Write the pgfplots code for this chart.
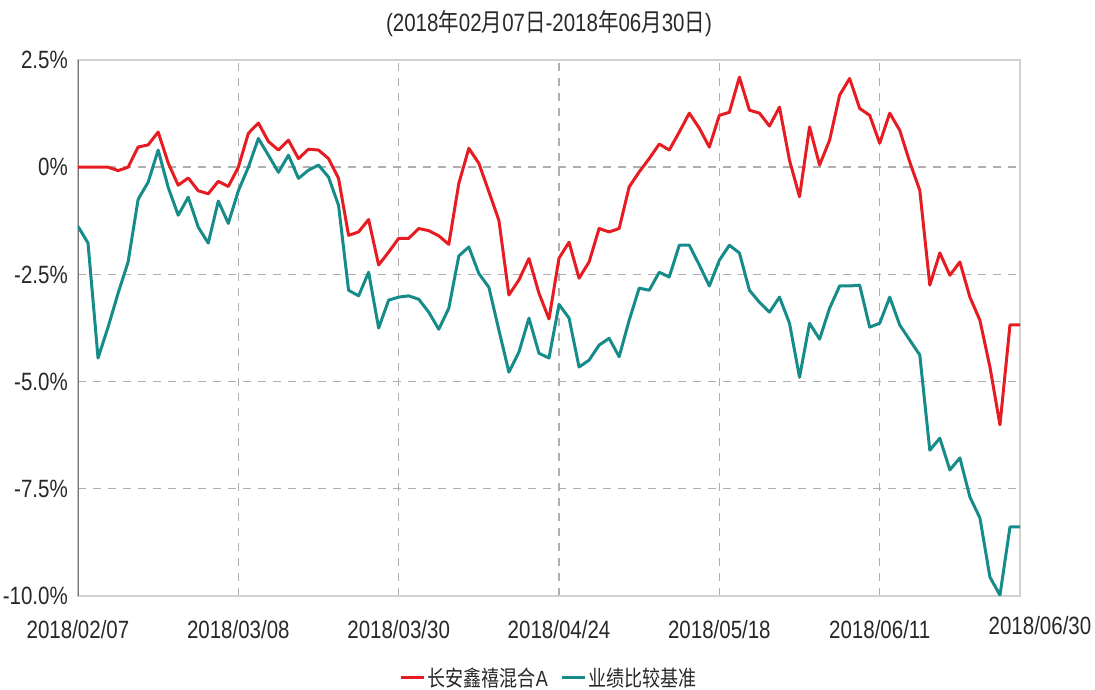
\documentclass[border=0pt]{standalone}
\usepackage{fontspec}
\setmainfont{Liberation Sans}[FakeStretch=0.82]
\newfontfamily\cjk{Noto Sans CJK SC}[FakeStretch=0.82]
\usepackage{pgfplots}
\usepackage{pgfplotstable}
\pgfplotsset{compat=1.18}
\definecolor{fundred}{RGB}{230,28,34}
\definecolor{benchteal}{RGB}{22,140,138}
\definecolor{gridgray}{RGB}{175,175,175}
\definecolor{txtgray}{RGB}{40,40,40}
\newcommand\tickfont{\fontsize{25}{30}\selectfont}
\newcommand\legfont{\fontsize{22}{26}\selectfont}

\pgfplotstableread{
i fund bench
0 0.0 -1.38
1 0.0 -1.77
2 0.0 -4.45
3 0.0 -3.73
4 -0.08 -2.94
5 0.0 -2.21
6 0.47 -0.75
7 0.52 -0.35
8 0.82 0.40
9 0.10 -0.47
10 -0.42 -1.12
11 -0.25 -0.70
12 -0.55 -1.40
13 -0.62 -1.77
14 -0.33 -0.79
15 -0.45 -1.31
16 0.0 -0.55
17 0.79 0.0
18 1.03 0.67
19 0.60 0.28
20 0.40 -0.12
21 0.63 0.28
22 0.20 -0.26
23 0.42 -0.07
24 0.40 0.05
25 0.20 -0.23
26 -0.26 -0.89
27 -1.59 -2.87
28 -1.51 -3.00
29 -1.22 -2.45
30 -2.28 -3.75
31 -1.98 -3.10
32 -1.66 -3.03
33 -1.66 -3.00
34 -1.43 -3.08
35 -1.48 -3.38
36 -1.60 -3.78
37 -1.80 -3.29
38 -0.38 -2.07
39 0.44 -1.86
40 0.09 -2.48
41 -0.57 -2.80
42 -1.24 -3.80
43 -2.98 -4.78
44 -2.63 -4.31
45 -2.13 -3.52
46 -2.94 -4.34
47 -3.54 -4.45
48 -2.12 -3.20
49 -1.75 -3.52
50 -2.59 -4.66
51 -2.21 -4.50
52 -1.43 -4.15
53 -1.51 -3.99
54 -1.43 -4.42
55 -0.46 -3.57
56 -0.11 -2.82
57 0.20 -2.87
58 0.54 -2.45
59 0.40 -2.56
60 0.82 -1.82
61 1.26 -1.82
62 0.91 -2.28
63 0.47 -2.77
64 1.21 -2.17
65 1.28 -1.82
66 2.10 -2.00
67 1.33 -2.87
68 1.26 -3.15
69 0.96 -3.38
70 1.40 -3.03
71 0.16 -3.64
72 -0.69 -4.90
73 0.94 -3.64
74 0.05 -4.01
75 0.63 -3.29
76 1.68 -2.77
77 2.07 -2.77
78 1.37 -2.75
79 1.21 -3.73
80 0.56 -3.64
81 1.26 -3.03
82 0.86 -3.68
83 0.12 -4.03
84 -0.54 -4.38
85 -2.75 -6.60
86 -2.00 -6.32
87 -2.52 -7.06
88 -2.21 -6.78
89 -3.03 -7.69
90 -3.57 -8.18
91 -4.66 -9.56
92 -6.01 -9.98
93 -3.68 -8.39
94 -3.68 -8.39
}\datatable

\begin{document}
\begin{tikzpicture}[x=1pt,y=1pt]
\useasboundingbox (-78,-94) rectangle (1017,596);
\begin{axis}[
  at={(0,0)}, anchor=south west,
  scale only axis, width=942pt, height=536pt,
  xmin=0, xmax=94, ymin=-10, ymax=2.5,
  xtick={0,16,32,48,64,80},
  xticklabels={2018/02/07,2018/03/08,2018/03/30,2018/04/24,2018/05/18,2018/06/11},
  extra x ticks={94},
  extra x tick labels={2018/06/30},
  extra x tick style={grid=none, tick label style={xshift=20pt, yshift=4pt}},
  ytick={-10,-7.5,-5,-2.5,0,2.5},
  yticklabels={-10.0\%,-7.5\%,-5.0\%,-2.5\%,0\%,2.5\%},
  major tick length=0pt,
  tick style={draw=none},
  x tick label style={font=\tickfont, text=txtgray, anchor=north, inner sep=0pt, yshift=-24pt},
  y tick label style={font=\tickfont, text=txtgray, anchor=east, inner sep=0pt, xshift=-10pt},
  grid=major,
  major grid style={draw=gridgray, line width=1.4pt, dash pattern=on 8pt off 7pt},
  axis line style={draw=black!18, line width=1.4pt},
  title={(2018{\cjk 年}02{\cjk 月}07{\cjk 日}-2018{\cjk 年}06{\cjk 月}30{\cjk 日})},
  title style={font=\tickfont, text=txtgray, at={(0.5,1)}, anchor=center, yshift=30pt, inner sep=0pt},
  legend columns=2,
  legend style={draw=none, fill=none, at={(0.5,-0.152)}, anchor=center, font=\legfont, text=txtgray,
    /tikz/every even column/.append style={column sep=10pt}},
  legend image code/.code={\draw[#1] (0pt,0pt) -- (23pt,0pt);},
]
\draw[black!55, line width=1.8pt] (rel axis cs:0,0) -- (rel axis cs:0,1);
\addplot[fundred, line width=3pt, line join=round] table[x=i, y=fund] {\datatable};
\addlegendentry{{\cjk 长安鑫禧混合}A}
\addplot[benchteal, line width=3pt, line join=round] table[x=i, y=bench] {\datatable};
\addlegendentry{{\cjk 业绩比较基准}}
\end{axis}
\end{tikzpicture}
\end{document}
